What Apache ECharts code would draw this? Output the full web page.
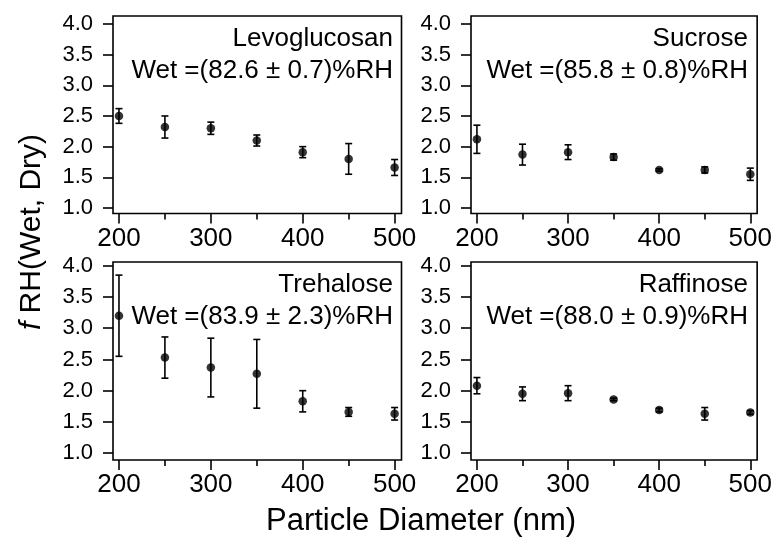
<!DOCTYPE html>
<html>
<head>
<meta charset="utf-8">
<script src="https://cdn.jsdelivr.net/npm/echarts@6/dist/echarts.min.js"></script>
<style>html,body{margin:0;padding:0;background:#fff;}#c{width:775px;height:546px;}</style>
</head>
<body>
<div id="c"></div>
<script>
// ---- data ----
const diameters = [200, 250, 300, 350, 400, 450, 500];
const levoglucosan    = [2.50, 2.32, 2.30, 2.10, 1.91, 1.80, 1.66];
const levoglucosanErr = [0.12, 0.18, 0.10, 0.09, 0.09, 0.25, 0.13];
const sucrose    = [2.12, 1.87, 1.91, 1.83, 1.62, 1.62, 1.55];
const sucroseErr = [0.23, 0.17, 0.12, 0.05, 0.02, 0.05, 0.10];
const trehalose    = [3.20, 2.53, 2.37, 2.27, 1.83, 1.66, 1.63];
const trehaloseErr = [0.65, 0.33, 0.47, 0.55, 0.17, 0.07, 0.10];
const raffinose    = [2.08, 1.95, 1.96, 1.86, 1.69, 1.63, 1.65];
const raffinoseErr = [0.13, 0.11, 0.12, 0.02, 0.03, 0.10, 0.03];
const panelNames = ['Levoglucosan', 'Sucrose', 'Trehalose', 'Raffinose'];
const panelWet = ['Wet =(82.6 ± 0.7)%RH', 'Wet =(85.8 ± 0.8)%RH', 'Wet =(83.9 ± 2.3)%RH', 'Wet =(88.0 ± 0.9)%RH'];
const xMajorTicks = [200, 300, 400, 500];
const xMinorTicks = [250, 350, 450];
const yTicks = [1.0, 1.5, 2.0, 2.5, 3.0, 3.5, 4.0];
const xTitle = 'Particle Diameter (nm)';
const yTitleItalic = 'f';
const yTitleRest = ' RH(Wet, Dry)';

const FONT = '"Liberation Sans", Arial, sans-serif';
const series = [levoglucosan, sucrose, trehalose, raffinose];
const errs = [levoglucosanErr, sucroseErr, trehaloseErr, raffinoseErr];

const grids = [
  {left: 113, top: 16, width: 288.5, height: 197.5},
  {left: 471, top: 16, width: 287, height: 197.5},
  {left: 113, top: 262, width: 288.5, height: 198},
  {left: 471, top: 262, width: 287, height: 198}
];
const yRange = [[0.91, 4.13], [0.91, 4.13], [0.89, 4.06], [0.89, 4.06]];

const option = {
  animation: false,
  backgroundColor: '#fff',
  grid: grids.map(g => Object.assign({show: true, borderColor: '#000', borderWidth: 1.6, backgroundColor: 'transparent'}, g)),
  xAxis: [],
  yAxis: [],
  series: [],
  graphic: []
};

function errItem(params, api) {
  const x = api.value(0), y = api.value(1), e = api.value(2);
  const t = api.coord([x, y + e]);
  const b = api.coord([x, y - e]);
  const w = 3.5;
  const st = {stroke: '#000', lineWidth: 1.6};
  return {type: 'group', children: [
    {type: 'line', shape: {x1: t[0], y1: t[1], x2: b[0], y2: b[1]}, style: st},
    {type: 'line', shape: {x1: t[0] - w, y1: t[1], x2: t[0] + w, y2: t[1]}, style: st},
    {type: 'line', shape: {x1: b[0] - w, y1: b[1], x2: b[0] + w, y2: b[1]}, style: st}
  ]};
}

for (let i = 0; i < 4; i++) {
  option.xAxis.push({
    type: 'value', gridIndex: i, position: 'bottom', min: 193.5, max: 507.5,
    axisLine: {show: false}, splitLine: {show: false},
    axisTick: {show: true, inside: false, length: 10, customValues: xMajorTicks, lineStyle: {color: '#000', width: 1.6}},
    axisLabel: {show: true, customValues: xMajorTicks, margin: 12, color: '#000', fontSize: 26, fontFamily: FONT}
  });
  option.xAxis.push({
    type: 'value', gridIndex: i, position: 'bottom', min: 193.5, max: 507.5,
    axisLine: {show: false}, splitLine: {show: false},
    axisTick: {show: true, inside: false, length: 6, customValues: xMinorTicks, lineStyle: {color: '#000', width: 1.6}},
    axisLabel: {show: false}
  });
  option.yAxis.push({
    type: 'value', gridIndex: i, min: yRange[i][0], max: yRange[i][1],
    axisLine: {show: false}, splitLine: {show: false},
    axisTick: {show: true, inside: false, length: 10, customValues: yTicks, lineStyle: {color: '#000', width: 1.6}},
    axisLabel: {show: true, customValues: yTicks, margin: 20, color: '#000', fontSize: 22, fontFamily: FONT,
      formatter: v => Number(v).toFixed(1)}
  });
  const pts = diameters.map((d, k) => [d, series[i][k], errs[i][k]]);
  option.series.push({
    type: 'custom', xAxisIndex: 2 * i, yAxisIndex: i, data: pts, renderItem: errItem, silent: true, z: 2
  });
  option.series.push({
    type: 'scatter', xAxisIndex: 2 * i, yAxisIndex: i, data: pts.map(p => [p[0], p[1]]),
    symbol: 'circle', symbolSize: 8.5, itemStyle: {color: '#000'}, silent: true, z: 3
  });
  const g = grids[i];
  const right = g.left + g.width - (i % 2 === 0 ? 8.5 : 10);
  option.graphic.push({
    type: 'text', x: right, y: g.top + 23,
    style: {text: panelNames[i], fill: '#000', font: '26px ' + FONT, textAlign: 'right', textVerticalAlign: 'middle'}
  });
  option.graphic.push({
    type: 'text', x: right, y: g.top + 55,
    style: {text: panelWet[i], fill: '#000', font: '26px ' + FONT, textAlign: 'right', textVerticalAlign: 'middle'}
  });
}

option.graphic.push({
  type: 'text', x: 421, y: 521,
  style: {text: xTitle, fill: '#000', font: '31px ' + FONT, textAlign: 'center', textVerticalAlign: 'middle'}
});
option.graphic.push({
  type: 'text', x: 32, y: 232, rotation: Math.PI / 2,
  style: {
    text: '{i|' + yTitleItalic + '}{n|' + yTitleRest + '}',
    textAlign: 'center', textVerticalAlign: 'middle',
    rich: {
      i: {fontStyle: 'italic', fontSize: 30, fontFamily: FONT, fill: '#000', color: '#000'},
      n: {fontSize: 30, fontFamily: FONT, fill: '#000', color: '#000'}
    }
  }
});

const chart = echarts.init(document.getElementById('c'), null, {renderer: 'canvas'});
chart.setOption(option);
</script>
</body>
</html>
